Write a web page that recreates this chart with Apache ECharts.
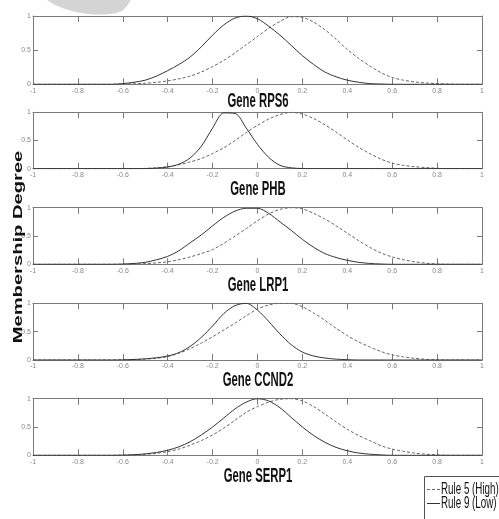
<!DOCTYPE html>
<html>
<head>
<meta charset="utf-8">
<script src="https://cdn.jsdelivr.net/npm/echarts@6/dist/echarts.min.js"></script>
<style>
html,body{margin:0;padding:0;background:#fff;}
#chart{width:499px;height:519px;}
</style>
</head>
<body>
<div id="chart"></div>
<script>
// ---- data ----
const xs = [-1,-0.95,-0.9,-0.85,-0.8,-0.75,-0.7,-0.65,
  -0.6,-0.55,-0.5,-0.45,-0.4,-0.35,-0.3,-0.25,-0.2,-0.15,-0.1,-0.05,
  0,0.05,0.1,0.15,0.2,0.25,0.3,0.35,0.4,0.45,0.5,0.55,
  0.6,0.65,0.7,0.75,0.8,0.85,0.9,0.95,1];
const xTickLabels = ['-1','-0.8','-0.6','-0.4','-0.2','0','0.2','0.4','0.6','0.8','1'];
const yTickLabels = ['0','0.5','1'];
const genes = ['Gene RPS6','Gene PHB','Gene LRP1','Gene CCND2','Gene SERP1'];
const legendNames = ['Rule 5 (High)','Rule 9 (Low)'];
const yAxisTitle = 'Membership Degree';

const rps6High = [0,0,0,0,0,0,0,0,
  0.003,0.008,0.015,0.03,0.05,0.08,0.12,0.18,0.26,0.35,0.46,0.58,
  0.7,0.82,0.92,0.99,0.98,0.91,0.8,0.66,0.51,0.38,0.27,0.17,
  0.1,0.06,0.035,0.02,0.01,0.004,0,0,0];
const rps6Low = [0,0,0,0,0,0,0,0,
  0.01,0.03,0.06,0.12,0.2,0.29,0.4,0.55,0.72,0.87,0.97,1.0,
  0.96,0.85,0.72,0.57,0.42,0.29,0.18,0.11,0.06,0.03,0.01,0.004,
  0,0,0,0,0,0,0,0,0];
const phbHigh = [0,0,0,0,0,0,0,0,
  0,0,0.005,0.015,0.035,0.07,0.12,0.18,0.27,0.37,0.5,0.64,
  0.77,0.88,0.96,1.0,0.97,0.89,0.78,0.65,0.51,0.38,0.27,0.17,
  0.1,0.06,0.035,0.02,0.008,0,0,0,0];
const phbLow = [0,0,0,0,0,0,0,0,
  0,0,0.003,0.01,0.03,0.08,0.19,0.4,0.72,0.99,0.98,0.72,
  0.43,0.2,0.06,0.015,0.003,0,0,0,0,0,0,0,
  0,0,0,0,0,0,0,0,0];
const lrp1High = [0,0,0,0,0,0,0,0,
  0,0.005,0.012,0.025,0.045,0.08,0.13,0.19,0.26,0.37,0.5,0.63,
  0.77,0.89,0.97,1.0,0.98,0.9,0.8,0.68,0.55,0.42,0.3,0.2,
  0.13,0.08,0.045,0.02,0.005,0,0,0,0];
const lrp1Low = [0,0,0,0,0,0,0,0,
  0.005,0.015,0.035,0.08,0.14,0.24,0.38,0.52,0.68,0.83,0.94,0.99,
  0.99,0.9,0.75,0.6,0.44,0.3,0.19,0.12,0.07,0.035,0.015,0.005,
  0,0,0,0,0,0,0,0,0];
const ccnd2High = [0,0,0,0,0,0,0,0,
  0.003,0.008,0.015,0.03,0.06,0.12,0.2,0.3,0.41,0.53,0.65,0.78,
  0.9,0.97,1.0,1.0,0.94,0.83,0.7,0.56,0.43,0.32,0.23,0.15,
  0.09,0.055,0.03,0.012,0.003,0,0,0,0];
const ccnd2Low = [0,0,0,0,0,0,0,0,
  0.003,0.01,0.02,0.04,0.07,0.13,0.24,0.4,0.6,0.82,0.96,1.0,
  0.88,0.68,0.46,0.27,0.14,0.07,0.035,0.015,0.005,0,0,0,
  0,0,0,0,0,0,0,0,0];
const serp1High = [0,0,0,0,0,0,0,0,
  0.003,0.008,0.018,0.035,0.065,0.11,0.18,0.26,0.36,0.48,0.62,0.76,
  0.86,0.94,0.99,1.0,0.96,0.86,0.73,0.59,0.46,0.35,0.26,0.17,
  0.11,0.07,0.04,0.02,0.008,0,0,0,0];
const serp1Low = [0,0,0,0,0,0,0,0,
  0.003,0.01,0.025,0.05,0.09,0.15,0.24,0.36,0.5,0.66,0.82,0.94,
  1.0,0.96,0.84,0.67,0.5,0.35,0.23,0.14,0.08,0.04,0.02,0.007,
  0,0,0,0,0,0,0,0,0];

const highSeries = [rps6High, phbHigh, lrp1High, ccnd2High, serp1High];
const lowSeries = [rps6Low, phbLow, lrp1Low, ccnd2Low, serp1Low];

// ---- layout ----
const gridTops = [16, 112.3, 207.7, 303.3, 398.7];
const gridHeights = [68.3, 56.4, 56.6, 56.7, 56.6];
const titleY = [102, 190, 286, 381, 477];
const frameColor = '#7a7a7a';
const labelStyle = {fontSize: 7, color: '#888', fontFamily: 'Liberation Sans Narrow, Liberation Sans, sans-serif'};

const grid = [], xAxis = [], yAxis = [], series = [], graphic = [];
genes.forEach((g, i) => {
  grid.push({left: 33, right: 17, top: gridTops[i], height: gridHeights[i], containLabel: false});
  xAxis.push({
    type: 'value', gridIndex: i, min: -1, max: 1, interval: 0.2, position: 'bottom',
    axisLine: {show: true, onZero: false, lineStyle: {color: frameColor, width: 1}},
    axisTick: {show: true, inside: true, length: 6, lineStyle: {color: frameColor}},
    axisLabel: Object.assign({show: true, margin: 3, formatter: v => xTickLabels[Math.round((v + 1) / 0.2)]}, labelStyle),
    splitLine: {show: false}
  });
  xAxis.push({
    type: 'value', gridIndex: i, min: -1, max: 1, interval: 0.2, position: 'top',
    axisLine: {show: true, onZero: false, lineStyle: {color: frameColor, width: 1}},
    axisTick: {show: true, inside: true, length: 6, lineStyle: {color: frameColor}},
    axisLabel: {show: false}, splitLine: {show: false}
  });
  yAxis.push({
    type: 'value', gridIndex: i, min: 0, max: 1, interval: 0.5, position: 'left',
    axisLine: {show: true, onZero: false, lineStyle: {color: frameColor, width: 1}},
    axisTick: {show: true, inside: true, length: 5, lineStyle: {color: frameColor}},
    axisLabel: Object.assign({show: true, margin: 2, formatter: v => yTickLabels[Math.round(v / 0.5)]}, labelStyle),
    splitLine: {show: false}
  });
  yAxis.push({
    type: 'value', gridIndex: i, min: 0, max: 1, interval: 0.5, position: 'right',
    axisLine: {show: true, onZero: false, lineStyle: {color: frameColor, width: 1}},
    axisTick: {show: true, inside: true, length: 5, lineStyle: {color: frameColor}},
    axisLabel: {show: false}, splitLine: {show: false}
  });
  series.push({
    name: legendNames[0], type: 'line', xAxisIndex: 2 * i, yAxisIndex: 2 * i,
    data: xs.map((x, k) => [x, highSeries[i][k]]),
    showSymbol: false, smooth: 0.3, z: 3,
    lineStyle: {color: '#666', width: 1, type: [3, 2]}
  });
  series.push({
    name: legendNames[1], type: 'line', xAxisIndex: 2 * i, yAxisIndex: 2 * i,
    data: xs.map((x, k) => [x, lowSeries[i][k]]),
    showSymbol: false, smooth: 0.3, z: 4,
    lineStyle: {color: '#333', width: 1, type: 'solid'}
  });
  graphic.push({
    type: 'text', x: 258, y: titleY[i], scaleX: 0.63, scaleY: 1.08, z: 10,
    style: {text: g, font: 'bold 18px "Liberation Sans", Arial, sans-serif', fill: '#111',
      align: 'center', verticalAlign: 'middle', textAlign: 'center', textVerticalAlign: 'middle'}
  });
});

graphic.push({
  type: 'text', x: 18, y: 247, rotation: Math.PI / 2, scaleX: 1.55, scaleY: 1.05, z: 10,
  style: {text: yAxisTitle, font: 'bold 13px "Liberation Sans", Arial, sans-serif', fill: '#111',
    align: 'center', verticalAlign: 'middle', textAlign: 'center', textVerticalAlign: 'middle'}
});
graphic.push({
  type: 'polygon', z: 0,
  shape: {points: [[47,0],[55,5],[65,9],[78,12.5],[92,14.5],[105,14.5],[115,13.5],[122,11],[127,6],[131,0]]},
  style: {fill: '#d4d4d4'}
});
graphic.push({type: 'rect', z: 10, shape: {x: 424.5, y: 476.5, width: 80, height: 50},
  style: {fill: '#fff', stroke: '#555', lineWidth: 1}});
graphic.push({type: 'line', z: 11, shape: {x1: 427, y1: 489.5, x2: 440, y2: 489.5},
  style: {stroke: '#666', lineWidth: 1, lineDash: [3, 2]}});
graphic.push({type: 'line', z: 11, shape: {x1: 427, y1: 503.5, x2: 440, y2: 503.5},
  style: {stroke: '#333', lineWidth: 1}});
graphic.push({type: 'text', z: 11, x: 441, y: 489.5, scaleX: 0.7, scaleY: 1.15,
  style: {text: legendNames[0], font: '14px "Liberation Sans", Arial, sans-serif', fill: '#111',
    align: 'left', verticalAlign: 'middle', textAlign: 'left', textVerticalAlign: 'middle'}});
graphic.push({type: 'text', z: 11, x: 441, y: 503.5, scaleX: 0.7, scaleY: 1.15,
  style: {text: legendNames[1], font: '14px "Liberation Sans", Arial, sans-serif', fill: '#111',
    align: 'left', verticalAlign: 'middle', textAlign: 'left', textVerticalAlign: 'middle'}});

const chart = echarts.init(document.getElementById('chart'), null, {renderer: 'canvas'});
chart.setOption({
  animation: false,
  backgroundColor: '#fff',
  grid, xAxis, yAxis, series, graphic
});
</script>
</body>
</html>
